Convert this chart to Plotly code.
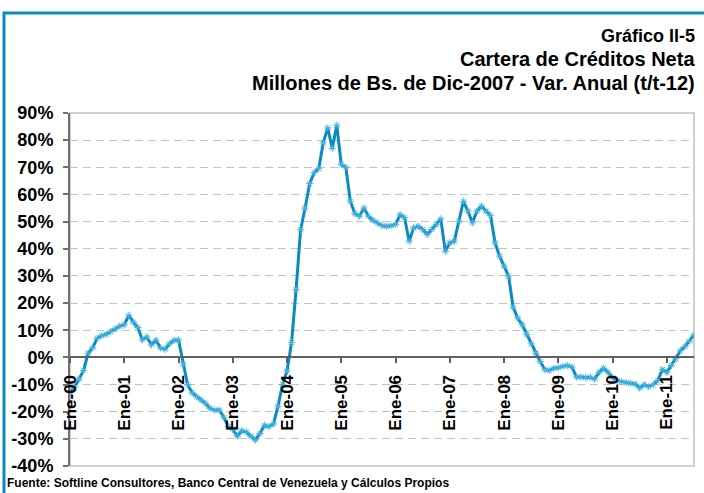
import plotly.graph_objects as go

years = ["00", "01", "02", "03", "04", "05", "06", "07", "08", "09", "10", "11"]
tick_labels = ["Ene-" + y for y in years]

v2000 = [-13, -11, -8, -4.8, 1.5, 3.5, 7, 8, 8.5, 9.5, 10.5, 11.5]
v2001 = [12, 15.5, 13, 11, 6.5, 7.5, 4.6, 6.3, 3.5, 3, 5, 6.3]
v2002 = [6.4, -2.5, -10, -13, -14.5, -15.7, -17, -18.8, -19.4, -19.4, -22, -25.5]
v2003 = [-26.5, -29, -27, -27.5, -29, -30.4, -28, -25, -25.5, -24.5, -18, -10]
v2004 = [-5, 5.5, 25, 47, 55, 64, 68, 69.5, 79, 84.5, 77, 85.5]
v2005 = [71, 70, 57.5, 53, 52, 55, 52, 50.5, 49.5, 48.5, 48.3, 48.5]
v2006 = [49, 52.5, 51.4, 42.8, 47.7, 48.3, 47.1, 45.3, 47.1, 49, 51, 39.1]
v2007 = [42.2, 42.8, 50.2, 57.5, 53.9, 49.6, 53.9, 55.7, 53.9, 52.3, 42.2, 37.3]
v2008 = [33.6, 29.9, 18.5, 14.5, 12, 8.5, 5, 1.5, -1.5, -4.5, -4.8, -4]
v2009 = [-3.8, -3.3, -3, -3.5, -7.2, -7.2, -7.5, -7.3, -8, -5.5, -4, -5.5]
v2010 = [-7.5, -8.5, -9, -9.3, -9.5, -9.8, -11.3, -10, -10.8, -10, -8.5, -4.5]
v2011 = [-5.5, -3, -0.5, 2.5, 4, 6, 8.3]

values = v2000 + v2001 + v2002 + v2003 + v2004 + v2005 + v2006 + v2007 + v2008 + v2009 + v2010 + v2011
x_idx = list(range(len(values)))
tick_pos = [12 * k for k in range(len(tick_labels))]
y_ticks = list(range(-40, 91, 10))

FONT = "Liberation Sans, Arial, sans-serif"

fig = go.Figure()
fig.add_trace(go.Scatter(
    x=x_idx, y=values, mode="lines+markers",
    line=dict(color="#0a8ac0", width=3),
    marker=dict(symbol="asterisk-open", size=6, color="#45b4e2",
                line=dict(color="#45b4e2", width=1)),
    hoverinfo="skip", showlegend=False,
))

# plot area border (light gray)
fig.add_shape(type="rect", xref="paper", yref="paper", x0=0, x1=1, y0=0, y1=1,
              line=dict(color="#d0d0d0", width=2), layer="below")
# outer blue frame
fig.add_shape(type="rect", xref="paper", yref="paper",
              x0=(4 - 70) / 624, x1=(708 - 70) / 624,
              y0=(466 - 497) / 353, y1=(466 - 13) / 353,
              line=dict(color="#0a8ac4", width=3), layer="below")

fig.update_layout(
    width=704, height=493,
    margin=dict(l=70, r=10, t=113, b=27),
    paper_bgcolor="white", plot_bgcolor="white",
    font=dict(family=FONT, color="black"),
    xaxis=dict(
        range=[0, len(values) - 1], anchor="free", position=40 / 130,
        tickmode="array", tickvals=tick_pos, ticktext=tick_labels,
        tickangle=-90, ticks="outside", ticklen=5, tickcolor="#606060", tickwidth=1.5,
        showline=True, linecolor="#606060", linewidth=1.5,
        showgrid=False, zeroline=False,
        tickfont=dict(family=FONT, size=17, color="black", weight="bold"),
        ticklabelstandoff=5,
    ),
    yaxis=dict(
        range=[-40, 90], tickmode="array", tickvals=y_ticks,
        ticktext=[f"{v}%" for v in y_ticks],
        ticks="outside", ticklen=5, tickcolor="#707070", tickwidth=1.5,
        showline=True, linecolor="#707070", linewidth=2,
        showgrid=True, gridcolor="#c4c4c4", gridwidth=1, griddash="8px,5px",
        zeroline=False,
        tickfont=dict(family=FONT, size=18, color="black", weight="bold"),
        ticklabelstandoff=6,
    ),
    annotations=[
        dict(text="<b>Gráfico II-5</b>", xref="paper", yref="paper",
             x=(697 - 70) / 624, y=(466 - 36) / 353, xanchor="right", yanchor="middle",
             showarrow=False, font=dict(family=FONT, size=18, color="black")),
        dict(text="<b>Cartera de Créditos Neta</b>", xref="paper", yref="paper",
             x=(697 - 70) / 624, y=(466 - 59) / 353, xanchor="right", yanchor="middle",
             showarrow=False, font=dict(family=FONT, size=20, color="black")),
        dict(text="<b>Millones de Bs. de Dic-2007 - Var. Anual (t/t-12)</b>", xref="paper", yref="paper",
             x=(697 - 70) / 624, y=(466 - 83) / 353, xanchor="right", yanchor="middle",
             showarrow=False, font=dict(family=FONT, size=20, color="black")),
        dict(text="<b>Fuente: Softline Consultores, Banco Central de Venezuela y Cálculos Propios</b>",
             xref="paper", yref="paper",
             x=(5 - 70) / 624, y=(466 - 483) / 353, xanchor="left", yanchor="middle",
             showarrow=False, font=dict(family=FONT, size=12, color="black")),
    ],
)

fig.write_html("out.html", config={"displayModeBar": False},
               post_script="document.body.style.margin='0';document.body.style.overflow='hidden';")
